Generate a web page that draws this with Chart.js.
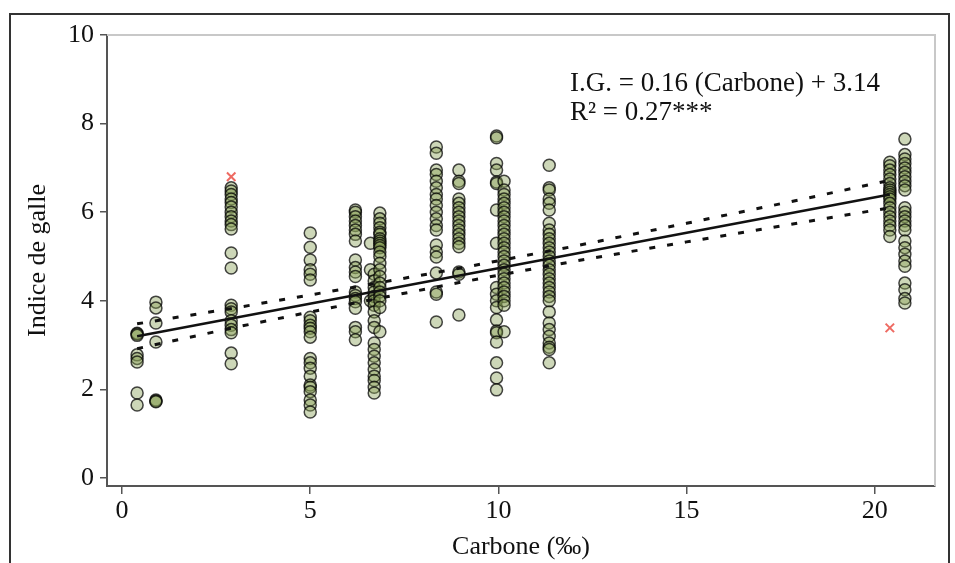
<!DOCTYPE html>
<html>
<head>
<meta charset="utf-8">
<script src="https://cdn.jsdelivr.net/npm/chart.js@4.4.1/dist/chart.umd.min.js"></script>
<style>
  html, body { margin: 0; padding: 0; background: #fff; }
  #wrap { position: relative; width: 955px; height: 563px; }
  #frame { position: absolute; left: 9px; top: 13px; width: 941px; height: 600px;
           border: 2px solid #333; pointer-events: none; box-sizing: border-box; }
</style>
</head>
<body>
<div id="wrap">
  <canvas id="c" width="955" height="563"></canvas>
  <div id="frame"></div>
</div>
<script>
// ---- Data ----
const xTicks = [0, 5, 10, 15, 20];
const yTicks = [0, 2, 4, 6, 8, 10];

// Carbone (‰) values of each column of observations
const carbone = [0.4, 0.9, 2.9, 5.0, 6.2, 6.6, 6.7, 6.85, 8.35, 8.95, 9.95, 10.15, 11.35, 20.4, 20.8];

// Indice de galle observed at each carbone column
const ig_0_4  = [3.27, 3.25, 3.22, 2.78, 2.7, 2.62, 1.92, 1.65];
const ig_0_9  = [3.97, 3.84, 3.5, 3.07, 1.76, 1.74, 1.72];
const ig_2_9  = [6.55, 6.48, 6.4, 6.3, 6.22, 6.12, 6.0, 5.9, 5.8, 5.72, 5.62, 5.08, 4.74, 3.9, 3.82, 3.75, 3.55, 3.45, 3.35, 3.28, 2.82, 2.58];
const ig_5_0  = [5.53, 5.21, 4.92, 4.7, 4.6, 4.47, 3.63, 3.55, 3.45, 3.38, 3.3, 3.18, 2.7, 2.6, 2.48, 2.3, 2.1, 2.05, 1.95, 1.76, 1.65, 1.49];
const ig_6_2  = [6.05, 6.0, 5.9, 5.8, 5.7, 5.6, 5.5, 5.35, 4.92, 4.75, 4.65, 4.55, 4.2, 4.12, 4.05, 3.98, 3.83, 3.4, 3.3, 3.12];
const ig_6_6  = [5.3, 4.7, 4.0];
const ig_6_7  = [4.6, 4.45, 4.3, 4.2, 4.1, 4.0, 3.9, 3.75, 3.55, 3.4, 3.05, 2.9, 2.75, 2.6, 2.45, 2.3, 2.2, 2.05, 1.92];
const ig_6_85 = [5.98, 5.85, 5.75, 5.65, 5.55, 5.5, 5.4, 5.35, 5.3, 5.25, 5.2, 5.1, 5.0, 4.85, 4.7, 4.55, 4.4, 4.3, 4.2, 4.1, 4.0, 3.85, 3.3];
const ig_8_4  = [7.47, 7.33, 6.95, 6.85, 6.7, 6.55, 6.4, 6.3, 6.15, 6.0, 5.85, 5.7, 5.6, 5.26, 5.1, 4.99, 4.63, 4.2, 4.15, 3.52];
const ig_9_0  = [6.95, 6.7, 6.65, 6.3, 6.2, 6.1, 6.0, 5.9, 5.8, 5.7, 5.6, 5.5, 5.4, 5.3, 5.22, 4.65, 4.6, 3.68];
const ig_10_0 = [7.72, 7.68, 7.1, 6.95, 6.68, 6.65, 6.05, 5.3, 4.3, 4.15, 4.0, 3.85, 3.57, 3.32, 3.28, 3.07, 2.6, 2.26, 1.99];
const ig_10_2 = [6.7, 6.5, 6.4, 6.3, 6.2, 6.1, 6.0, 5.9, 5.8, 5.7, 5.6, 5.5, 5.4, 5.3, 5.2, 5.1, 5.0, 4.9, 4.8, 4.7, 4.6, 4.5, 4.4, 4.3, 4.2, 4.1, 4.0, 3.9, 3.3];
const ig_11_4 = [7.06, 6.55, 6.5, 6.3, 6.2, 6.05, 5.75, 5.6, 5.5, 5.4, 5.3, 5.2, 5.1, 5.0, 4.9, 4.8, 4.7, 4.6, 4.5, 4.4, 4.3, 4.2, 4.1, 4.0, 3.75, 3.5, 3.35, 3.2, 3.05, 2.95, 2.9, 2.6];
const ig_20_4 = [7.13, 7.05, 6.95, 6.85, 6.75, 6.65, 6.55, 6.5, 6.45, 6.4, 6.35, 6.3, 6.2, 6.1, 6.0, 5.9, 5.8, 5.7, 5.6, 5.45];
const ig_20_8 = [7.65, 7.3, 7.2, 7.1, 7.0, 6.9, 6.8, 6.7, 6.6, 6.5, 6.1, 6.0, 5.9, 5.8, 5.7, 5.6, 5.35, 5.2, 5.05, 4.9, 4.78, 4.4, 4.25, 4.05, 3.95];

const columns = [ig_0_4, ig_0_9, ig_2_9, ig_5_0, ig_6_2, ig_6_6, ig_6_7, ig_6_85, ig_8_4, ig_9_0, ig_10_0, ig_10_2, ig_11_4, ig_20_4, ig_20_8];

// Outliers (red crosses)
const outlierX = [2.9, 20.4];
const outlierY = [6.8, 3.39];

// Regression line I.G. = 0.16 (Carbone) + 3.14 (end points)
const fitX = [0.4, 20.4];
const fitY = [3.2, 6.4];

// Confidence band (dotted lines)
const bandX     = [0.4, 3, 6, 9, 12, 15, 18, 20.4];
const bandUpper = [3.48, 3.84, 4.28, 4.74, 5.23, 5.75, 6.28, 6.72];
const bandLower = [2.92, 3.40, 3.92, 4.42, 4.89, 5.33, 5.76, 6.10];

const eqLine1 = 'I.G. = 0.16 (Carbone) + 3.14';
const eqLine2 = 'R\u00B2 = 0.27***';

// ---- Build datasets ----
const obs = [];
columns.forEach((vals, i) => vals.forEach(v => obs.push({ x: carbone[i], y: v })));
const outliers = outlierX.map((x, i) => ({ x, y: outlierY[i] }));
const fit = fitX.map((x, i) => ({ x, y: fitY[i] }));
const upper = bandX.map((x, i) => ({ x, y: bandUpper[i] }));
const lower = bandX.map((x, i) => ({ x, y: bandLower[i] }));

const SERIF = "'Liberation Serif', 'DejaVu Serif', serif";

const framePlugin = {
  id: 'framePlugin',
  afterDraw(chart) {
    const { ctx, chartArea: a, scales } = chart;
    ctx.save();
    ctx.strokeStyle = '#c8c8c8';
    ctx.lineWidth = 2;
    ctx.beginPath();
    ctx.moveTo(a.left, a.top); ctx.lineTo(a.right, a.top); ctx.lineTo(a.right, a.bottom);
    ctx.stroke();
    ctx.fillStyle = '#111';
    ctx.font = '27px ' + SERIF;
    ctx.textBaseline = 'middle';
    ctx.textAlign = 'left';
    const tx = scales.x.getPixelForValue(11.9);
    ctx.fillText(eqLine1, tx, scales.y.getPixelForValue(8.9));
    ctx.fillText(eqLine2, tx, scales.y.getPixelForValue(8.25));
    ctx.restore();
  }
};

new Chart(document.getElementById('c'), {
  type: 'scatter',
  data: {
    datasets: [
      { data: obs, pointRadius: 6, pointHoverRadius: 6,
        backgroundColor: 'rgba(135,160,85,0.42)', borderColor: 'rgba(0,0,0,0.72)', borderWidth: 1.5, order: 3 },
      { data: outliers, pointStyle: 'crossRot', pointRadius: 6, borderColor: 'rgba(235,80,70,0.85)', borderWidth: 2, order: 2 },
      { data: fit, showLine: true, pointRadius: 0, borderColor: '#111', borderWidth: 2.5, order: 1 },
      { data: upper, showLine: true, pointRadius: 0, borderColor: '#111', borderWidth: 3, borderDash: [6, 12], order: 1 },
      { data: lower, showLine: true, pointRadius: 0, borderColor: '#111', borderWidth: 3, borderDash: [6, 12], order: 1 }
    ]
  },
  options: {
    responsive: false,
    animation: false,
    events: [],
    layout: { padding: { top: 35, right: 20, left: 23, bottom: 0 } },
    plugins: { legend: { display: false }, tooltip: { enabled: false } },
    scales: {
      x: {
        type: 'linear', min: -0.4, max: 21.6,
        afterBuildTicks: s => { s.ticks = xTicks.map(v => ({ value: v })); },
        afterFit: s => { s.height = 77; },
        border: { display: true, color: '#555', width: 2 },
        grid: { display: true, drawOnChartArea: false, drawTicks: true, tickLength: 8, color: '#555', lineWidth: 1.5 },
        ticks: { color: '#111', padding: 2, font: { family: SERIF, size: 26 } },
        title: { display: true, text: 'Carbone (‰)', color: '#111', font: { family: SERIF, size: 26 }, padding: { top: 0, bottom: 0 } }
      },
      y: {
        type: 'linear', min: -0.18, max: 10,
        afterBuildTicks: s => { s.ticks = yTicks.map(v => ({ value: v })); },
        afterFit: s => { s.width = 84; },
        border: { display: true, color: '#555', width: 2 },
        grid: { display: true, drawOnChartArea: false, drawTicks: true, tickLength: 7, color: '#555', lineWidth: 1.5 },
        ticks: { color: '#111', padding: 6, font: { family: SERIF, size: 26 } },
        title: { display: true, text: 'Indice de galle', color: '#111', font: { family: SERIF, size: 26 }, padding: { top: 0, bottom: 0 } }
      }
    }
  },
  plugins: [framePlugin]
});
</script>
</body>
</html>
